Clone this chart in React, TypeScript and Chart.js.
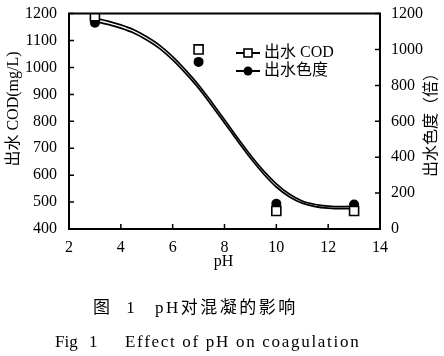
import React, { useEffect, useRef } from "react";
import { Chart, registerables } from "chart.js";

Chart.register(...registerables);

const phPoints = [3, 7, 10, 13];
const codValues = [1190, 1067, 467, 467];
const colorValues = [1149, 931, 140, 136];

const fitPh = [3, 3.5, 4, 4.5, 5, 5.5, 6, 6.5, 7, 7.5, 8, 8.5, 9, 9.5, 10, 10.5, 11, 11.5, 12, 12.5, 13];
const codFit = [1183, 1172, 1158, 1140, 1114, 1082, 1040, 990, 935, 872, 806, 739, 675, 617, 568, 530, 504, 491, 485, 483, 485];
const colorFit = [1157, 1140, 1119, 1092, 1053, 1005, 942, 867, 785, 690, 591, 491, 395, 308, 234, 180, 144, 125, 116, 113, 114];

const xTickValues = [2, 4, 6, 8, 10, 12, 14];
const codTickValues = [400, 500, 600, 700, 800, 900, 1000, 1100, 1200];
const colorTickValues = [0, 200, 400, 600, 800, 1000, 1200];

const legendLabels = ["出水 COD", "出水色度"];
const xTitle = "pH";
const yTitle = "出水 COD(mg/L)";
const y2Title = "出水色度（倍）";
const caption1a = "图 1";
const caption1b = "pH对混凝的影响";
const caption2a = "Fig 1";
const caption2b = "Effect of pH on coagulation";

const FONT = "'Liberation Serif', 'Times New Roman', 'Noto Sans CJK SC', serif";

export default function App() {
  const ref = useRef<HTMLCanvasElement | null>(null);

  useEffect(() => {
    if (!ref.current) return;
    const decor = {
      id: "decor",
      afterDraw(chart: any) {
        const { ctx, chartArea } = chart;
        const { left, right, top, bottom } = chartArea;
        const xs = chart.scales.x;
        const ys = chart.scales.y;
        const y2s = chart.scales.y2;
        ctx.save();
        ctx.strokeStyle = "#000";
        ctx.lineWidth = 2;
        ctx.beginPath();
        ctx.rect(left, top, right - left, bottom - top);
        ctx.stroke();
        ctx.lineWidth = 1.5;
        ctx.beginPath();
        xTickValues.forEach((v) => {
          const px = xs.getPixelForValue(v);
          ctx.moveTo(px, bottom);
          ctx.lineTo(px, bottom - 5);
        });
        codTickValues.forEach((v) => {
          const py = ys.getPixelForValue(v);
          ctx.moveTo(left, py);
          ctx.lineTo(left + 5, py);
        });
        colorTickValues.forEach((v) => {
          const py = y2s.getPixelForValue(v);
          ctx.moveTo(right, py);
          ctx.lineTo(right - 5, py);
        });
        ctx.stroke();

        ctx.fillStyle = "#000";
        ctx.textAlign = "center";
        ctx.textBaseline = "middle";
        ctx.font = `16px ${FONT}`;
        ctx.fillText(xTitle, (left + right) / 2 - 1, 262);

        ctx.font = `16px ${FONT}`;
        ctx.save();
        ctx.translate(14, 109);
        ctx.rotate(-Math.PI / 2);
        ctx.fillText(yTitle, 0, 0);
        ctx.restore();
        ctx.save();
        ctx.translate(432, 121);
        ctx.rotate(-Math.PI / 2);
        ctx.fillText(y2Title, 0, 0);
        ctx.restore();

        // legend
        const lx0 = 236, lx1 = 260, lm = 248, tx = 264;
        const rows = [53, 71];
        ctx.lineWidth = 2;
        rows.forEach((ry, i) => {
          ctx.beginPath();
          ctx.moveTo(lx0, ry);
          ctx.lineTo(lx1, ry);
          ctx.stroke();
          if (i === 0) {
            ctx.fillStyle = "#fff";
            ctx.fillRect(lm - 4, ry - 4, 8, 8);
            ctx.lineWidth = 1.6;
            ctx.strokeRect(lm - 4, ry - 4, 8, 8);
            ctx.lineWidth = 2;
          } else {
            ctx.fillStyle = "#000";
            ctx.beginPath();
            ctx.arc(lm, ry, 4.5, 0, Math.PI * 2);
            ctx.fill();
          }
          ctx.fillStyle = "#000";
          ctx.textAlign = "left";
          ctx.font = `16px ${FONT}`;
          ctx.fillText(legendLabels[i], tx, ry);
        });
        ctx.restore();
      },
    };

    const tickFont = { family: FONT, size: 16 };
    const plain = (v: any) => String(v);

    const chart = new Chart(ref.current, {
      type: "scatter",
      data: {
        datasets: [
          {
            label: legendLabels[0],
            data: phPoints.map((x, i) => ({ x, y: codValues[i] })),
            yAxisID: "y",
            pointStyle: "rect",
            pointRadius: 6.4,
            backgroundColor: "#fff",
            borderColor: "#000",
            borderWidth: 1.6,
            showLine: false,
          },
          {
            label: legendLabels[1],
            data: phPoints.map((x, i) => ({ x, y: colorValues[i] })),
            yAxisID: "y2",
            pointStyle: "circle",
            pointRadius: 5,
            backgroundColor: "#000",
            borderColor: "#000",
            borderWidth: 0,
            showLine: false,
          },
          {
            label: "codFit",
            data: fitPh.map((x, i) => ({ x, y: codFit[i] })),
            yAxisID: "y",
            showLine: true,
            pointRadius: 0,
            borderColor: "#000",
            borderWidth: 1.7,
            cubicInterpolationMode: "monotone",
          },
          {
            label: "colorFit",
            data: fitPh.map((x, i) => ({ x, y: colorFit[i] })),
            yAxisID: "y2",
            showLine: true,
            pointRadius: 0,
            borderColor: "#000",
            borderWidth: 1.7,
            cubicInterpolationMode: "monotone",
          },
        ],
      },
      options: {
        responsive: false,
        animation: false,
        devicePixelRatio: 1,
        layout: { padding: { top: 9, bottom: 97, left: 0, right: 0 } },
        plugins: { legend: { display: false }, tooltip: { enabled: false } },
        scales: {
          x: {
            type: "linear",
            min: 2,
            max: 14,
            afterFit: (s: any) => { s.height = 30; },
            afterBuildTicks: (s: any) => { s.ticks = xTickValues.map((v) => ({ value: v })); },
            grid: { display: false },
            border: { display: false },
            ticks: { color: "#000", font: tickFont, padding: 1, maxRotation: 0, callback: plain },
          },
          y: {
            type: "linear",
            position: "left",
            min: 400,
            max: 1200,
            afterFit: (s: any) => { s.width = 69; },
            afterBuildTicks: (s: any) => { s.ticks = codTickValues.map((v) => ({ value: v })); },
            grid: { display: false },
            border: { display: false },
            ticks: { color: "#000", font: tickFont, padding: 4, callback: plain },
          },
          y2: {
            type: "linear",
            position: "right",
            min: 0,
            max: 1200,
            afterFit: (s: any) => { s.width = 64; },
            afterBuildTicks: (s: any) => { s.ticks = colorTickValues.map((v) => ({ value: v })); },
            grid: { display: false },
            border: { display: false },
            ticks: { color: "#000", font: tickFont, padding: 3, callback: plain },
          },
        },
      },
      plugins: [decor],
    } as any);
    return () => chart.destroy();
  }, []);

  const capStyle: React.CSSProperties = {
    position: "absolute",
    fontFamily: FONT,
    color: "#000",
    whiteSpace: "nowrap",
    lineHeight: "20px",
  };

  return (
    <div style={{ position: "absolute", left: 0, top: 0, width: 444, height: 356, background: "#fff" }}>
      <canvas ref={ref} width={444} height={356} style={{ position: "absolute", left: 0, top: 0 }} />
      <div style={{ ...capStyle, left: 93, top: 298, fontSize: 17, wordSpacing: 12 }}>{caption1a}</div>
      <div style={{ ...capStyle, left: 155, top: 298, fontSize: 17, letterSpacing: 2.5 }}>{caption1b}</div>
      <div style={{ ...capStyle, left: 55, top: 332, fontSize: 17, wordSpacing: 7 }}>{caption2a}</div>
      <div style={{ ...capStyle, left: 125, top: 332, fontSize: 17, letterSpacing: 1.7 }}>{caption2b}</div>
    </div>
  );
}
